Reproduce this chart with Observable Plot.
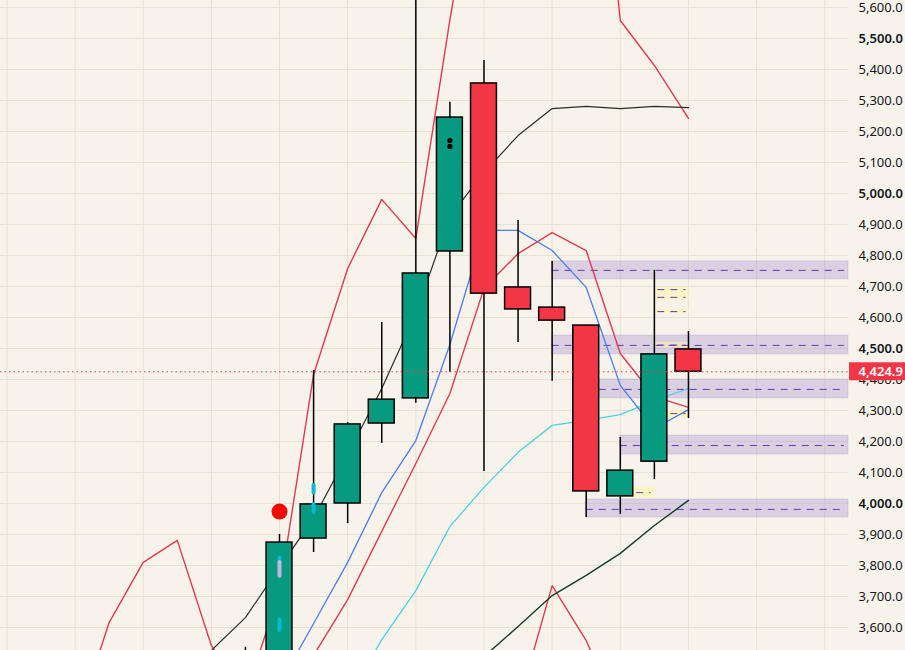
<!DOCTYPE html>
<html>
<head>
<meta charset="utf-8">
<script src="https://cdn.jsdelivr.net/npm/d3@7"></script>
<script src="https://cdn.jsdelivr.net/npm/@observablehq/plot@0.6"></script>
<style>
  html, body { margin: 0; padding: 0; background: #f7f3ea; }
  #chart { width: 905px; height: 650px; overflow: hidden; }
</style>
</head>
<body>
<div id="chart"></div>
<script>
// ---- candles (index 0 = first fully visible bar) ----
const candleIdx = [-1, 0, 1, 2, 3, 4, 5, 6, 7, 8, 9, 10, 11, 12];
const opens  = [3420, 3450, 3887, 4000, 4258, 4339, 4813, 5355, 4697, 4632, 4574, 4023, 4135, 4497];
const highs  = [3536, 3900, 4429, 4261, 4584, 5700, 5294, 5429, 4913, 4781, 4574, 4213, 4752, 4555];
const lows   = [3300, 3400, 3842, 3935, 4194, 4323, 4423, 4103, 4519, 4394, 3955, 3965, 4077, 4274];
const closes = [3480, 3874, 3997, 4255, 4335, 4742, 5245, 4677, 4626, 4590, 4039, 4106, 4481, 4424.9];

// ---- indicator lines ----
const lineIdx   = [-6, -5, -4, -3, -2, -1, 0, 1, 2, 3, 4, 5, 6, 7, 8, 9, 10, 11, 12];
const redOuter  = [3277, 3616, 3810, 3881, 3542, 3380, 3716, 4416, 4758, 4981, 4855, 5561, 6200, 6400, 6500, 6600, 5558, 5413, 5242];
const redLower  = [null, null, null, null, null, null, null, null, null, null, null, null, 3200, 3348, 3735, 3558, 3300, null, null];
const redInner  = [null, null, null, null, null, null, 3300, 3510, 3690, 3910, 4129, 4355, 4694, 4806, 4874, 4816, 4484, 4345, 4310];
const blueLine  = [null, null, null, null, null, null, 3416, 3613, 3810, 4035, 4203, 4513, 4881, 4881, 4816, 4697, 4381, 4242, 4303];
const cyanLine  = [null, null, null, null, null, null, null, null, 3368, 3561, 3719, 3926, 4052, 4165, 4252, 4268, 4287, 4332, 4371];
const blackLine = [null, null, null, 3400, 3526, 3632, 3794, 3952, 4158, 4371, 4613, 4926, 5068, 5187, 5274, 5281, 5274, 5281, 5277];
const greenLine = [null, null, null, null, null, null, null, null, null, null, null, 3400, 3506, 3603, 3703, 3768, 3839, 3929, 4010];

// ---- purple zones ----
const zoneStart  = [8, 8, 9.38, 10, 9];
const zoneTop    = [4781, 4542, 4400, 4219, 4013];
const zoneBottom = [4723, 4481, 4339, 4158, 3955];
const zoneMid    = [4752, 4510, 4368, 4187, 3981];

// ---- small yellow zones ----
const yzStart  = [11, 11, 11, 11, 11, 10];
const yzEnd    = [12.03, 12.03, 12.03, 12.03, 12.03, 11];
const yzTop    = [4697, 4674, 4626, 4519, 4300, 4052];
const yzBottom = [4677, 4658, 4613, 4503, 4277, 4019];
const yzMid    = [4690, 4665, 4619, 4511, 4290, 4035];

// ---- markers ----
const signalIdx = [0];
const signalVal = [3974];
const pillIdx = [0, 0, 0, 1, 1];
const pillLo  = [3810, 3765, 3590, 4035, 3971];
const pillHi  = [3823, 3810, 3623, 4058, 3997];
const pillCol = ["#00bcd4", "#c5b3e0", "#00bcd4", "#00bcd4", "#00bcd4"];
const blackDotIdx = [5, 5];
const blackDotVal = [5171, 5152];

const yTicks = [3600, 3700, 3800, 3900, 4000, 4100, 4200, 4300, 4400, 4500, 4600, 4700, 4800, 4900, 5000, 5100, 5200, 5300, 5400, 5500, 5600];
const boldTicks = [4000, 4500, 5000, 5500];
const lastPrice = 4424.9;

const X_MIN = -8.187, X_MAX = 16.696;
const Y_MIN = 3525.8, Y_MAX = 5622.6;

const green = "#089981", red = "#f23645";
const candles = candleIdx.map((i, k) => ({i, open: opens[k], high: highs[k], low: lows[k], close: closes[k]}));
const series = (vals) => lineIdx.map((i, k) => ({i, v: vals[k]})).filter(d => d.v != null);
const zones = zoneStart.map((s, k) => ({s, top: zoneTop[k], bottom: zoneBottom[k], mid: zoneMid[k]}));
const yzones = yzStart.map((s, k) => ({s, e: yzEnd[k], top: yzTop[k], bottom: yzBottom[k], mid: yzMid[k]}));
const pills = pillIdx.map((i, k) => ({i, lo: pillLo[k], hi: pillHi[k], c: pillCol[k]}));
const fmt = d3.format(",.1f");
const font = "'Noto Sans', 'DejaVu Sans', sans-serif";
const gridIdx = d3.range(-8, 17, 2);

const lineMark = (vals, color, w = 1.3) => Plot.line(series(vals), {x: "i", y: "v", stroke: color, strokeWidth: w, clip: true});

const chart = Plot.plot({
  width: 905, height: 650,
  marginLeft: 0, marginRight: 57, marginTop: 0, marginBottom: 0,
  x: {domain: [X_MIN, X_MAX], axis: null},
  y: {domain: [Y_MIN, Y_MAX], axis: null},
  style: {background: "#f7f3ea", overflow: "hidden", fontFamily: font},
  marks: [
    Plot.ruleY(yTicks, {stroke: "#e6e1d7", strokeWidth: 1}),
    Plot.ruleX(gridIdx, {stroke: "#e6e1d7", strokeWidth: 1, clip: true}),
    // purple zones
    Plot.rect(zones, {x1: "s", x2: () => X_MAX, y1: "bottom", y2: "top", fill: "#9575cd", fillOpacity: 0.28, stroke: "#9575cd", strokeOpacity: 0.22, strokeWidth: 1}),
    Plot.rect(yzones, {x1: "s", x2: "e", y1: "bottom", y2: "top", fill: "#fff59d", fillOpacity: 0.55}),
    Plot.ruleY(zones, {y: "mid", x1: "s", x2: () => X_MAX - 0.12, stroke: "#5b3cb5", strokeWidth: 1, strokeDasharray: "7,6"}),
    Plot.ruleY(yzones, {y: "mid", x1: d => d.s + 0.1, x2: d => d.e - 0.1, stroke: "#5b3cb5", strokeWidth: 1, strokeDasharray: "7,6"}),
    // indicator lines
    lineMark(cyanLine, "#4dd0e1"),
    lineMark(blueLine, "#4a7cf2"),
    lineMark(redInner, "#e03a52", 1.4),
    lineMark(redOuter, "#e03a52", 1.4),
    lineMark(redLower, "#e03a52", 1.4),
    lineMark(blackLine, "#2b2b2b", 1.2),
    lineMark(greenLine, "#123d27", 1.4),
    // candles
    Plot.ruleX(candles, {x: "i", y1: "low", y2: "high", stroke: "#000", strokeWidth: 1.5, clip: true}),
    Plot.rect(candles.filter(d => d.close >= d.open), {x1: d => d.i - 0.38, x2: d => d.i + 0.38, y1: "open", y2: "close", fill: green, stroke: "#000", strokeWidth: 1.5, clip: true}),
    Plot.rect(candles.filter(d => d.close < d.open), {x1: d => d.i - 0.38, x2: d => d.i + 0.38, y1: "open", y2: "close", fill: red, stroke: "#000", strokeWidth: 1.5, clip: true}),
    // in-candle markers
    Plot.ruleX(pills, {x: "i", y1: "lo", y2: "hi", stroke: "c", strokeWidth: 4, strokeLinecap: "round"}),
    Plot.dot(blackDotIdx.map((i, k) => ({i, v: blackDotVal[k]})), {x: "i", y: "v", r: 2.6, fill: "#000"}),
    Plot.dot(signalIdx.map((i, k) => ({i, v: signalVal[k]})), {x: "i", y: "v", r: 8, fill: "#ff0000"}),
    // last price line
    Plot.ruleY([lastPrice], {stroke: red, strokeWidth: 1, strokeDasharray: "1.5,3"}),
    // price axis labels
    Plot.text(yTicks.filter(t => !boldTicks.includes(t)), {y: d => d, text: d => fmt(d), frameAnchor: "right", dx: 10, textAnchor: "start", fontSize: 13, fill: "#131722", fontFamily: font}),
    Plot.text(boldTicks, {y: d => d, text: d => fmt(d), frameAnchor: "right", dx: 10, textAnchor: "start", fontSize: 13, fontWeight: 600, fill: "#131722", fontFamily: font}),
    // last price label
    Plot.rect([lastPrice], {x1: X_MAX + 0.03, x2: X_MAX + 1.8, y1: d => d - 29, y2: d => d + 29, fill: red}),
    Plot.text([lastPrice], {y: d => d, text: d => fmt(d), frameAnchor: "right", dx: 10, textAnchor: "start", fontSize: 13, fontWeight: 600, fill: "#ffffff", fontFamily: font})
  ]
});
document.getElementById("chart").appendChild(chart);
</script>
</body>
</html>
